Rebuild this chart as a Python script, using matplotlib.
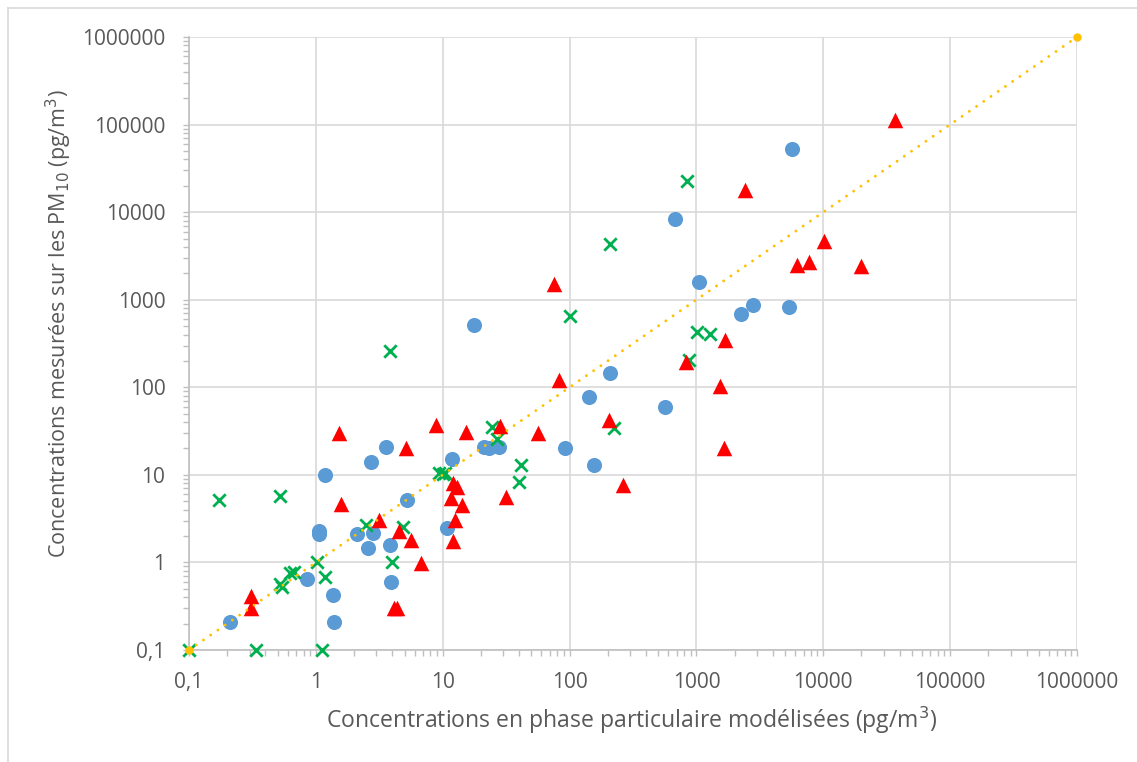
import matplotlib
matplotlib.use("Agg")
import matplotlib.pyplot as plt
from matplotlib.lines import Line2D
from matplotlib.ticker import FixedLocator, LogLocator, NullFormatter

# ---- data ----
tick_values = [0.1, 1, 10, 100, 1000, 10000, 100000, 1000000]
tick_labels = ["0,1", "1", "10", "100", "1000", "10000", "100000", "1000000"]

blue_x = [0.21, 0.85, 1.37, 1.38, 1.05, 1.05, 1.18, 2.7, 3.55, 2.1, 2.8, 2.6, 3.85, 3.9,
          5.2, 11.8, 10.8, 21, 23, 28, 17.8, 210, 141, 92, 155, 5700, 680, 1050, 2800,
          2250, 5400, 570]
blue_y = [0.21, 0.64, 0.43, 0.21, 2.3, 2.1, 10, 14, 20.6, 2.1, 2.15, 1.45, 1.6, 0.59,
          5.2, 15, 2.5, 20.6, 20.5, 20.6, 520, 144, 77, 20, 13, 53000, 8300, 1580, 860,
          680, 830, 59]

green_x = [0.1, 0.173, 0.52, 0.34, 1.11, 0.52, 0.54, 0.63, 0.67, 1.03, 1.18, 2.5, 4.85,
           4.0, 9.3, 10.0, 10.5, 3.85, 100, 210, 24.4, 26.7, 41.5, 40, 222, 850, 1010,
           1285, 870]
green_y = [0.1, 5.1, 5.7, 0.1, 0.1, 0.57, 0.52, 0.75, 0.77, 1.02, 0.68, 2.7, 2.55,
           1.02, 10.5, 10.3, 10.5, 260, 650, 4300, 35, 25.4, 13, 8.3, 34, 22600, 430,
           405, 205]

red_x = [0.31, 0.31, 1.53, 5.1, 1.57, 3.15, 4.5, 5.6, 6.7, 4.1, 4.35, 8.9, 15.3, 12.0,
         12.9, 11.6, 14.2, 12.5, 12.1, 76, 83, 28.4, 56, 206, 31.5, 2400, 10200, 6200,
         7700, 1690, 826, 1540, 1660, 266, 37000, 20000]
red_y = [0.41, 0.3, 30, 20, 4.7, 3.05, 2.3, 1.8, 0.98, 0.3, 0.3, 37, 30.5, 8.0, 7.2,
         5.4, 4.5, 3.05, 1.77, 1530, 121, 36, 30, 42, 5.6, 18000, 4700, 2500, 2700,
         346, 192, 103, 20, 7.7, 112000, 2400]

line_x = [0.1, 1000000]
line_y = [0.1, 1000000]

# ---- figure ----
plt.rcParams['font.family'] = ['Open Sans', 'DejaVu Sans']
W, H = 1137, 762
fig = plt.figure(figsize=(W / 100, H / 100), dpi=100)
ax = fig.add_axes([189 / W, (H - 650) / H, (1077 - 189) / W, (650 - 37) / H])

txt = '#595959'
grid_c = '#D9D9D9'
spine_c = '#BFBFBF'

ax.set_xscale('log')
ax.set_yscale('log')
ax.set_xlim(0.1, 1000000)
ax.set_ylim(0.1, 1000000)

ax.scatter(blue_x, blue_y, s=118, marker='o', color='#5B9BD5', zorder=3, linewidths=0,
           clip_on=False)
ax.scatter(green_x, green_y, s=80, marker='x', color='#00B050', zorder=4, linewidths=2,
           clip_on=False)
ax.scatter(red_x, red_y, s=125, marker='^', color='#FF0000', zorder=5, linewidths=0,
           clip_on=False)
ax.plot(line_x, line_y, color='#FFC000', lw=2.1, linestyle=(0, (0.01, 3.0)),
        dash_capstyle='round', marker='o', ms=5, zorder=6, clip_on=False)

for axis in (ax.xaxis, ax.yaxis):
    axis.set_major_locator(FixedLocator(tick_values))
    axis.set_minor_locator(LogLocator(base=10, subs=range(2, 10)))
    axis.set_minor_formatter(NullFormatter())
ax.set_xticks(tick_values, tick_labels)
ax.set_yticks(tick_values, tick_labels)

ax.grid(True, which='major', color=grid_c, lw=1.2, zorder=0)
ax.set_axisbelow(True)
for s in ['top', 'right']:
    ax.spines[s].set_visible(False)
for s in ['left', 'bottom']:
    ax.spines[s].set_color(spine_c)
    ax.spines[s].set_linewidth(1.2)

ax.tick_params(which='major', length=4, width=1, color=spine_c, labelsize=15,
               labelcolor=txt, direction='out')
ax.tick_params(which='minor', length=4, width=1, color=spine_c, direction='out')
ax.tick_params(axis='x', which='major', pad=12)
ax.tick_params(axis='y', which='major', pad=13)

fig.text(632 / W, 1 - 720 / H,
         'Concentrations en phase particulaire modélisées (pg/m$^3$)',
         fontsize=16.6, color=txt, ha='center', va='center')
fig.text(59 / W, 1 - 324 / H,
         'Concentrations mesurées sur les PM$_{10}$ (pg/m$^3$)',
         fontsize=15.5, color=txt, ha='center', va='center', rotation=90)

# outer frame (left and top edges visible)
fig.add_artist(Line2D([8 / W, 8 / W], [0, 1 - 8 / H], transform=fig.transFigure,
                      color=grid_c, lw=1.2))
fig.add_artist(Line2D([8 / W, 1], [1 - 8 / H, 1 - 8 / H], transform=fig.transFigure,
                      color=grid_c, lw=1.2))

fig.savefig('out.png', dpi=100)
